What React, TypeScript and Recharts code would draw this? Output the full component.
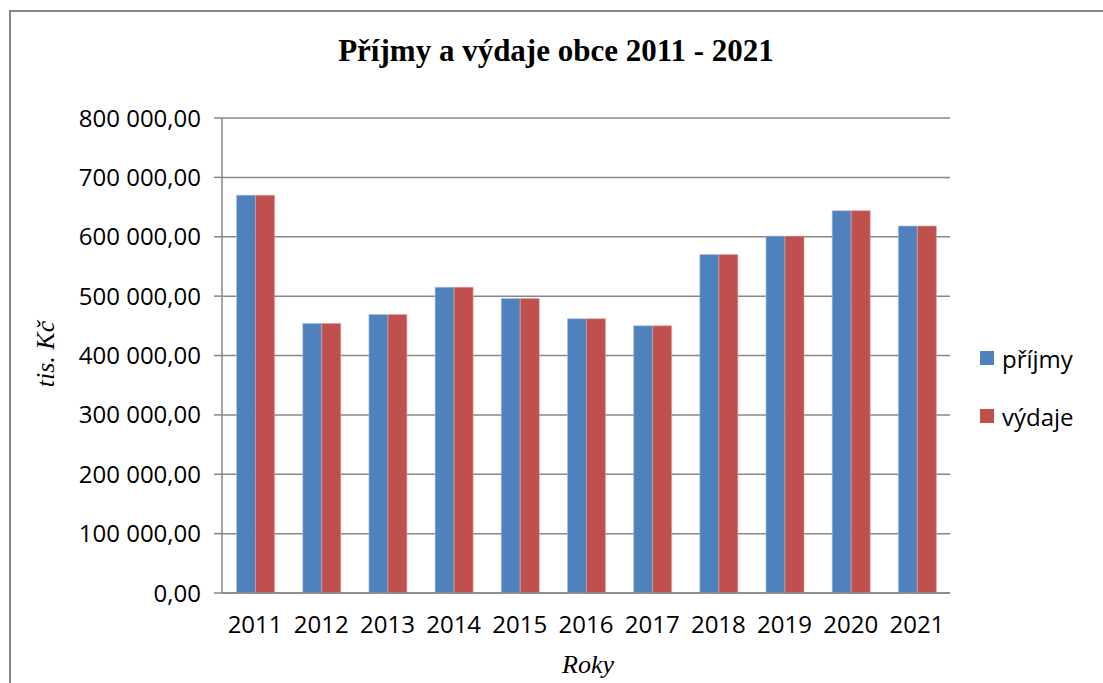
import { BarChart, Bar, XAxis, YAxis, CartesianGrid, Legend } from "recharts";

const years = ["2011", "2012", "2013", "2014", "2015", "2016", "2017", "2018", "2019", "2020", "2021"];
const prijmy = [670000, 454000, 469000, 515000, 496000, 462000, 450000, 570000, 601000, 644000, 618000];
const vydaje = [670000, 454000, 469000, 515000, 496000, 462000, 450000, 570000, 601000, 644000, 618000];
const yTicks = [0, 100000, 200000, 300000, 400000, 500000, 600000, 700000, 800000];
const boundaryTicks = [0, 1, 2, 3, 4, 5, 6, 7, 8, 9, 10, 11];

const data = years.map((rok, i) => ({ rok, prijmy: prijmy[i], vydaje: vydaje[i] }));

const BLUE = "#4f81bd";
const RED = "#c0504d";
const GRID = "#878787";
const tickFont = { fontFamily: "'Open Sans', sans-serif", fontSize: 24, fill: "#000" };

// "800 000,00"
function formatKc(v: number) {
  const s = Math.round(v).toString().replace(/\B(?=(\d{3})+(?!\d))/g, " ");
  return s + ",00";
}

function LegendBox() {
  const items = [
    { name: "příjmy", color: BLUE },
    { name: "výdaje", color: RED },
  ];
  return (
    <div style={{ fontFamily: "'Open Sans', sans-serif", fontSize: 24, color: "#000" }}>
      {items.map((it) => (
        <div key={it.name} style={{ display: "flex", alignItems: "center", height: 58 }}>
          <span style={{ width: 14, height: 14, background: it.color, marginRight: 8, display: "inline-block" }} />
          <span>{it.name}</span>
        </div>
      ))}
    </div>
  );
}

export default function App() {
  return (
    <div style={{ position: "fixed", left: 0, top: 0, width: 1103, height: 683, background: "#fff", overflow: "hidden" }}>
      <BarChart
        width={1103}
        height={683}
        data={data}
        margin={{ top: 118, right: 153, bottom: 0, left: 0 }}
        barCategoryGap="22%"
        barGap={0}
        accessibilityLayer={false}
      >
        <CartesianGrid vertical={false} stroke={GRID} strokeWidth={1.5} />
        <XAxis
          xAxisId="bounds"
          type="number"
          domain={[0, 11]}
          allowDataOverflow
          ticks={boundaryTicks}
          tick={false}
          tickSize={7}
          height={7}
          stroke={GRID}
          strokeWidth={1.5}
        />
        <XAxis
          xAxisId="cat"
          dataKey="rok"
          height={83}
          axisLine={false}
          tickLine={false}
          tickSize={6}
          tickMargin={10}
          tick={tickFont}
          interval={0}
        />
        <YAxis
          width={222}
          domain={[0, 800000]}
          ticks={yTicks}
          tickFormatter={formatKc}
          tick={tickFont}
          tickSize={8}
          tickMargin={13}
          stroke={GRID}
          strokeWidth={1.5}
          interval={0}
        />
        {/* centre + vertical so recharts does not reserve room for it */}
        <Legend
          verticalAlign="middle"
          align="center"
          layout="vertical"
          content={() => <LegendBox />}
          wrapperStyle={{ left: 980, top: 329, width: 120 }}
        />
        <Bar xAxisId="cat" dataKey="prijmy" name="příjmy" fill={BLUE} stroke="#a9c0de" strokeWidth={0.6} isAnimationActive={false} />
        <Bar xAxisId="cat" dataKey="vydaje" name="výdaje" fill={RED} stroke="#dba3a1" strokeWidth={0.6} isAnimationActive={false} />
      </BarChart>
      <svg width={1103} height={683} style={{ position: "absolute", left: 0, top: 0, pointerEvents: "none" }}>
        <path d="M10 700 V11 H1110" fill="none" stroke={GRID} strokeWidth={2} />
        <text x={556} y={61} textAnchor="middle" fontFamily="'Liberation Serif', serif" fontWeight="bold" fontSize={31}>
          Příjmy a výdaje obce 2011 - 2021
        </text>
        <text
          x={0}
          y={0}
          transform="translate(54 354) rotate(-90)"
          textAnchor="middle"
          fontFamily="'Liberation Serif', serif"
          fontStyle="italic"
          fontSize={26}
        >
          tis. Kč
        </text>
        <text x={588} y={673} textAnchor="middle" fontFamily="'Liberation Serif', serif" fontStyle="italic" fontSize={26}>
          Roky
        </text>
      </svg>
    </div>
  );
}
